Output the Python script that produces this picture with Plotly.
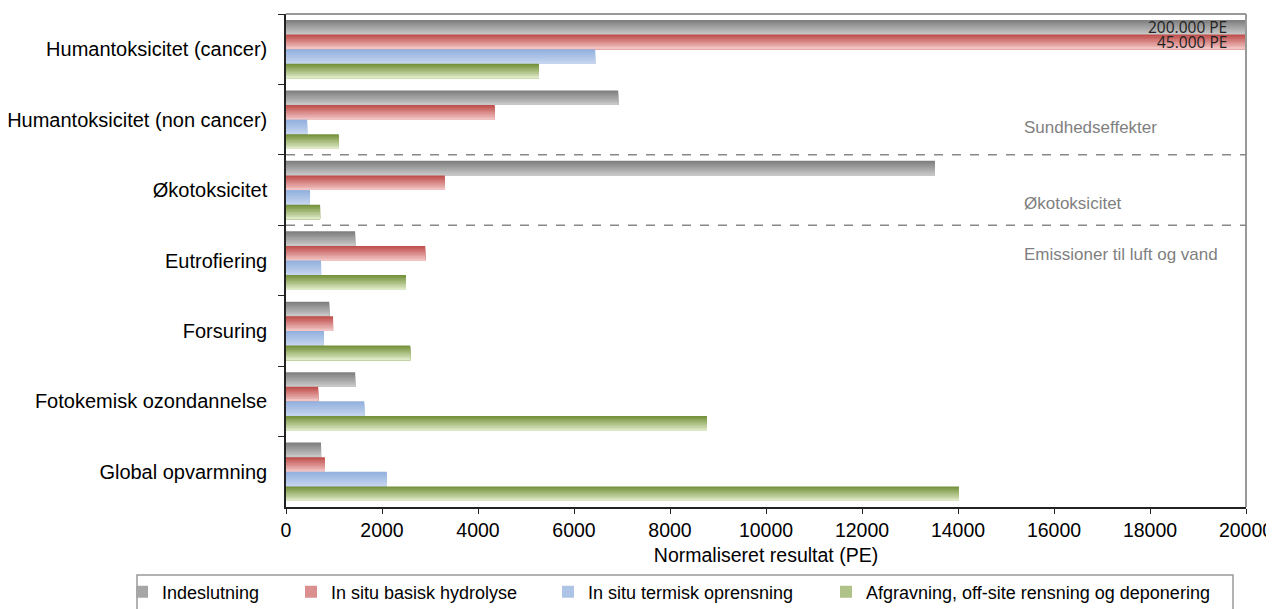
import plotly.graph_objects as go

categories = [
    "Humantoksicitet (cancer)",
    "Humantoksicitet (non cancer)",
    "Økotoksicitet",
    "Eutrofiering",
    "Forsuring",
    "Fotokemisk ozondannelse",
    "Global opvarmning",
]
series_names = [
    "Indeslutning",
    "In situ basisk hydrolyse",
    "In situ termisk oprensning",
    "Afgravning, off-site rensning og deponering",
]
indeslutning = [200000, 6920, 13520, 1440, 900, 1440, 730]
basisk = [45000, 4350, 3310, 2900, 980, 670, 810]
termisk = [6440, 440, 500, 730, 790, 1630, 2100]
afgravning = [5270, 1100, 710, 2500, 2590, 8770, 14020]
bar_labels = ["200.000 PE", "45.000 PE"]
group_labels = ["Sundhedseffekter", "Økotoksicitet", "Emissioner til luft og vand"]
x_ticks = [0, 2000, 4000, 6000, 8000, 10000, 12000, 14000, 16000, 18000, 20000]

# gradient colours (top -> bottom of each bar)
grad_top = [(0x7f, 0x7f, 0x7f), (0xc0, 0x50, 0x4d), (0x93, 0xb1, 0xde), (0x76, 0x92, 0x3c)]
grad_bot = [(0xc6, 0xc6, 0xc6), (0xf0, 0xc2, 0xc2), (0xc4, 0xd4, 0xee), (0xdc, 0xe8, 0xc4)]
values = [indeslutning, basisk, termisk, afgravning]
legend_ids = ["legend", "legend2", "legend3", "legend4"]

# page body has an 8px margin -> figure is 8px smaller than the window
W, H = 1266, 601
L, R, T, B = 278, 28, 6, 102

BARGAP = 0.17
NSLICE = 10
group_w = 1 - BARGAP
bar_w = group_w / len(values)

def mix(a, b, t):
    return "rgb(%d,%d,%d)" % tuple(round(a[i] + (b[i] - a[i]) * t) for i in range(3))

fig = go.Figure()
for s, (name, vals, lid) in enumerate(zip(series_names, values, legend_ids)):
    start = -group_w / 2 + s * bar_w
    for j in range(NSLICE):
        t = j / (NSLICE - 1)
        show = (j == NSLICE // 2)
        # each slice runs from its own top to the bottom of the bar; later slices
        # cover the lower part, giving a seamless vertical gradient
        fig.add_trace(go.Bar(
            y=categories, x=vals, name=name, orientation="h",
            width=bar_w * (NSLICE - j) / NSLICE, offset=start + j * bar_w / NSLICE,
            marker=dict(color=mix(grad_top[s], grad_bot[s], t), line=dict(width=0)),
            legend=lid, legendgroup=name, showlegend=show,
            hoverinfo=None if show else "skip",
        ))

font = "Liberation Sans, Arial, sans-serif"
fig.update_layout(
    width=W, height=H,
    margin=dict(l=L, r=R, t=T, b=B, autoexpand=False),
    paper_bgcolor="white", plot_bgcolor="white",
    barmode="overlay", showlegend=True,
    font=dict(family=font, size=18, color="#000"),
    xaxis=dict(range=[0, 20000], tickvals=x_ticks, ticktext=[str(v) for v in x_ticks],
               showgrid=False, zeroline=False, showline=True, linecolor="#222", linewidth=1.5,
               ticks="outside", ticklen=5, tickcolor="#222",
               tickfont=dict(size=19.5),
               title=dict(text="Normaliseret resultat (PE)", font=dict(size=19.5), standoff=8)),
    yaxis=dict(autorange="reversed", showgrid=False, zeroline=False, showline=True,
               linecolor="#222", linewidth=1.5, ticks="outside", ticklen=6, tickcolor="#222",
               tickson="boundaries", tickfont=dict(size=20), ticklabelstandoff=13),
)

# plot-area frame (top and right edges are grey)
fig.add_shape(type="line", xref="paper", yref="paper", x0=0, x1=1, y0=1, y1=1,
              line=dict(color="#999", width=2))
fig.add_shape(type="line", xref="paper", yref="paper", x0=1, x1=1, y0=0, y1=1,
              line=dict(color="#999", width=2))

# group separators
for yv in [1.5, 2.5]:
    fig.add_shape(type="line", xref="paper", yref="y", x0=0, x1=1, y0=yv, y1=yv,
                  line=dict(color="#888", width=1.5, dash="dash"))

# group labels
gcol = "#7f7f7f"
fig.add_annotation(x=15330, y=categories[1], text=group_labels[0], showarrow=False,
                   xanchor="left", yshift=-8, font=dict(size=17, color=gcol))
fig.add_annotation(x=15330, y=categories[2], text=group_labels[1], showarrow=False,
                   xanchor="left", yshift=-13, font=dict(size=17, color=gcol))
fig.add_annotation(x=15330, y=categories[3], text=group_labels[2], showarrow=False,
                   xanchor="left", yshift=6, font=dict(size=17, color=gcol))

# value labels for clipped bars
for lbl, ys in zip(bar_labels, [22, 7]):
    fig.add_annotation(x=20000, y=categories[0], text=lbl, showarrow=False,
                       xanchor="right", xshift=-17, yshift=ys,
                       font=dict(size=15.5, color="#222", family="Open Sans, sans-serif"))

# legend frame
pw, ph = W - L - R, H - T - B
fig.add_shape(type="rect", xref="paper", yref="paper",
              x0=(129 - L) / pw, x1=(1225 - L) / pw,
              y0=(H - B - 567) / ph, y1=(H - B - 604) / ph,
              line=dict(color="#999", width=1.5), fillcolor="rgba(0,0,0,0)")

text_x = [150, 319, 576, 854]
leg = {}
for lid, tx in zip(legend_ids, text_x):
    leg[lid] = dict(xref="container", yref="container", x=(tx - 36) / W, y=1 - 584 / H,
                    xanchor="left", yanchor="middle", orientation="h",
                    bgcolor="rgba(0,0,0,0)", borderwidth=0,
                    font=dict(size=18, color="#000"), itemwidth=30)
fig.update_layout(**leg)

fig.write_html("out.html")
